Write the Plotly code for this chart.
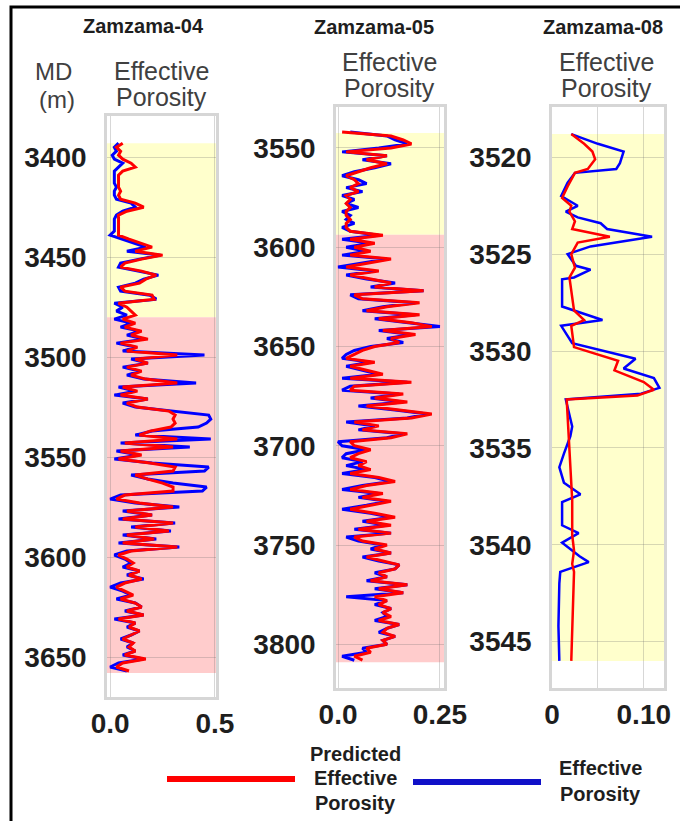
import numpy as np
import plotly.graph_objects as go

W, H = 680, 821
FONT = "Liberation Sans, Arial, sans-serif"
RED = "#ff0000"
BLUE = "#0000ff"

# ---------------- Zamzama-04 (samples every 2 m) ----------------
z04_start, z04_step = 3393, 2
z04_phie = [0.04, 0.02, 0.03, 0.01, 0.02, 0.06, 0.04, 0.02, 0.02, 0.02, 0.02, 0.03, 0.02, 0.02, 0.03,
            0.10, 0.12, 0.06, 0.03, 0.02, 0.02, 0.02, 0.02, 0.00, 0.06, 0.12, 0.17, 0.08, 0.24, 0.14,
            0.05, 0.04, 0.14, 0.23, 0.16, 0.12, 0.04, 0.05, 0.19, 0.22, 0.02, 0.06, 0.03, 0.08, 0.02,
            0.10, 0.05, 0.14, 0.08, 0.16, 0.03, 0.12, 0.06, 0.45, 0.10, 0.18, 0.06, 0.14, 0.08, 0.16,
            0.41, 0.04, 0.12, 0.02, 0.18, 0.06, 0.12, 0.30, 0.47, 0.48, 0.46, 0.42, 0.20, 0.12, 0.48,
            0.05, 0.38, 0.03, 0.14, 0.02, 0.20, 0.47, 0.45, 0.10, 0.18, 0.30, 0.46, 0.44, 0.05, 0.00,
            0.12, 0.33, 0.06, 0.20, 0.04, 0.31, 0.10, 0.29, 0.06, 0.22, 0.04, 0.33, 0.08, 0.02, 0.07,
            0.10, 0.06, 0.14, 0.08, 0.16, 0.05, 0.00, 0.06, 0.10, 0.03, 0.12, 0.15, 0.07, 0.16, 0.02,
            0.12, 0.08, 0.14, 0.10, 0.05, 0.11, 0.08, 0.12, 0.06, 0.16, 0.04, 0.00, 0.08]
z04_pred = [0.06, 0.03, 0.05, 0.04, 0.06, 0.10, 0.12, 0.06, 0.04, 0.04, 0.04, 0.04, 0.05, 0.04, 0.05,
            0.12, 0.16, 0.08, 0.04, 0.04, 0.04, 0.04, 0.04, 0.04, 0.09, 0.15, 0.20, 0.12, 0.25, 0.15,
            0.07, 0.05, 0.15, 0.22, 0.17, 0.14, 0.05, 0.07, 0.20, 0.21, 0.04, 0.08, 0.10, 0.12, 0.06,
            0.12, 0.07, 0.15, 0.10, 0.18, 0.05, 0.13, 0.08, 0.32, 0.12, 0.18, 0.08, 0.15, 0.10, 0.17,
            0.32, 0.06, 0.13, 0.05, 0.18, 0.08, 0.13, 0.28, 0.31, 0.30, 0.31, 0.29, 0.19, 0.14, 0.32,
            0.07, 0.30, 0.05, 0.15, 0.04, 0.19, 0.31, 0.30, 0.12, 0.18, 0.25, 0.30, 0.30, 0.07, 0.03,
            0.14, 0.30, 0.08, 0.20, 0.06, 0.30, 0.12, 0.28, 0.08, 0.21, 0.06, 0.32, 0.10, 0.04, 0.08,
            0.11, 0.08, 0.14, 0.09, 0.15, 0.07, 0.03, 0.07, 0.11, 0.05, 0.12, 0.15, 0.08, 0.16, 0.04,
            0.12, 0.09, 0.14, 0.10, 0.06, 0.11, 0.09, 0.12, 0.07, 0.17, 0.06, 0.03, 0.09]
z04_zone_top = [3393, 3480]
z04_zone_base = [3480, 3658]
z04_zone_color = ["#ffffcc", "#ffcccc"]

# ---------------- Zamzama-05 (samples every 2 m) ----------------
z05_start, z05_step = 3542, 2
z05_phie = [0.03, 0.12, 0.14, 0.17, 0.10, 0.01, 0.12, 0.06, 0.13, 0.09, 0.04, 0.01, 0.05, 0.07, 0.02,
            0.06, 0.01, 0.04, 0.02, 0.05, 0.01, 0.03, 0.02, 0.04, 0.01, 0.03, 0.10, 0.01, 0.08, 0.02,
            0.07, 0.01, 0.12, 0.06, 0.00, 0.09, 0.02, 0.07, 0.14, 0.08, 0.21, 0.03, 0.05, 0.19, 0.11,
            0.06, 0.19, 0.09, 0.17, 0.25, 0.10, 0.18, 0.12, 0.16, 0.08, 0.04, 0.02, 0.01, 0.08, 0.02,
            0.06, 0.10, 0.01, 0.17, 0.03, 0.01, 0.15, 0.08, 0.16, 0.05, 0.14, 0.22, 0.17, 0.02, 0.09,
            0.05, 0.16, 0.12, 0.00, 0.01, 0.07, 0.02, 0.01, 0.06, 0.02, 0.07, 0.01, 0.09, 0.13, 0.06,
            0.01, 0.10, 0.05, 0.12, 0.07, 0.01, 0.08, 0.13, 0.06, 0.12, 0.04, 0.13, 0.02, 0.05, 0.11,
            0.08, 0.13, 0.06, 0.10, 0.15, 0.14, 0.09, 0.12, 0.07, 0.17, 0.09, 0.16, 0.02, 0.12, 0.09,
            0.13, 0.11, 0.12, 0.09, 0.15, 0.12, 0.10, 0.14, 0.11, 0.12, 0.06, 0.07, 0.01, 0.04]
z05_pred = [0.01, 0.13, 0.16, 0.18, 0.13, 0.02, 0.12, 0.07, 0.12, 0.08, 0.05, 0.02, 0.04, 0.05, 0.03,
            0.05, 0.02, 0.03, 0.02, 0.03, 0.02, 0.02, 0.03, 0.02, 0.02, 0.03, 0.11, 0.03, 0.09, 0.04,
            0.08, 0.03, 0.13, 0.07, 0.02, 0.10, 0.03, 0.08, 0.13, 0.09, 0.21, 0.04, 0.06, 0.20, 0.12,
            0.07, 0.20, 0.10, 0.18, 0.23, 0.11, 0.19, 0.13, 0.15, 0.09, 0.06, 0.04, 0.02, 0.09, 0.03,
            0.07, 0.11, 0.03, 0.18, 0.04, 0.03, 0.16, 0.09, 0.17, 0.07, 0.15, 0.23, 0.18, 0.04, 0.10,
            0.06, 0.17, 0.13, 0.03, 0.04, 0.08, 0.05, 0.03, 0.07, 0.05, 0.08, 0.03, 0.10, 0.14, 0.07,
            0.03, 0.11, 0.06, 0.13, 0.08, 0.03, 0.09, 0.14, 0.07, 0.13, 0.05, 0.13, 0.04, 0.06, 0.12,
            0.09, 0.13, 0.07, 0.11, 0.15, 0.14, 0.10, 0.12, 0.08, 0.17, 0.10, 0.16, 0.09, 0.12, 0.10,
            0.13, 0.11, 0.13, 0.10, 0.15, 0.12, 0.11, 0.14, 0.11, 0.12, 0.07, 0.08, 0.04, 0.06]
z05_zone_top = [3542.5, 3593.7]
z05_zone_base = [3593.7, 3809]
z05_zone_color = ["#ffffcc", "#ffcccc"]

# ---------------- Zamzama-08 (irregular samples) ----------------
z08_phie_md = [3518.8, 3519.3, 3519.7, 3520.3, 3520.6, 3520.8, 3521.3, 3522.0, 3522.5, 3522.8,
               3523.1, 3523.4, 3523.7, 3524.1, 3524.6, 3525.0, 3525.6, 3525.8, 3526.2, 3526.3,
               3527.7, 3528.0, 3528.4, 3528.7, 3529.6, 3530.4, 3530.9, 3531.4, 3531.9, 3532.2,
               3532.5, 3533.9, 3534.4, 3535.3, 3536.0, 3536.8, 3537.4, 3537.8, 3539.0, 3539.4,
               3539.9, 3540.3, 3540.6, 3540.9, 3541.2, 3541.4, 3542.0, 3544.2, 3546.0]
z08_phie = [0.021, 0.050, 0.078, 0.074, 0.070, 0.025, 0.017, 0.010, 0.028, 0.015,
            0.028, 0.053, 0.060, 0.109, 0.042, 0.017, 0.026, 0.042, 0.024, 0.011,
            0.011, 0.031, 0.055, 0.010, 0.022, 0.091, 0.078, 0.111, 0.117, 0.097,
            0.015, 0.022, 0.020, 0.013, 0.008, 0.013, 0.031, 0.011, 0.011, 0.029,
            0.011, 0.022, 0.030, 0.040, 0.020, 0.009, 0.008, 0.007, 0.008]
z08_pred_md = [3518.8, 3519.3, 3519.7, 3520.1, 3520.6, 3520.8, 3521.5, 3522.1, 3522.5, 3522.8,
               3523.3, 3523.7, 3524.1, 3524.4, 3525.0, 3525.7, 3526.2, 3527.9, 3528.4, 3528.7,
               3529.8, 3530.5, 3531.0, 3531.6, 3532.0, 3532.3, 3532.5, 3534.3, 3537.7, 3539.5,
               3540.3, 3541.0, 3541.4, 3546.0]
z08_pred = [0.021, 0.035, 0.044, 0.047, 0.039, 0.025, 0.017, 0.011, 0.021, 0.019,
            0.025, 0.022, 0.063, 0.028, 0.021, 0.025, 0.019, 0.024, 0.035, 0.021,
            0.024, 0.072, 0.068, 0.100, 0.111, 0.093, 0.016, 0.018, 0.022, 0.022,
            0.024, 0.022, 0.024, 0.021]
z08_zone_top = [3518.8]
z08_zone_base = [3546.0]
z08_zone_color = ["#ffffcc"]

wells = ["Zamzama-04", "Zamzama-05", "Zamzama-08"]


def px(x):
    return x / W


def py(y):
    return 1 - y / H


z04_md = z04_start + z04_step * np.arange(len(z04_phie))
z05_md = z05_start + z05_step * np.arange(len(z05_phie))

panels = [
    dict(md_b=z04_md, b=z04_phie, md_r=z04_md, r=z04_pred, lw=3,
         zt=z04_zone_top, zb=z04_zone_base, zc=z04_zone_color,
         xdom=[px(107), px(216)], ydom=[py(697), py(116)],
         xr=[-0.015, 0.505], yr=[3670, 3379.4],
         xt=[0, 0.5], xtt=["0.0", "0.5"], yt=[3400, 3450, 3500, 3550, 3600, 3650]),
    dict(md_b=z05_md, b=z05_phie, md_r=z05_md, r=z05_pred, lw=3,
         zt=z05_zone_top, zb=z05_zone_base, zc=z05_zone_color,
         xdom=[px(336), px(444)], ydom=[py(688), py(107)],
         xr=[-0.005, 0.26], yr=[3822, 3529.4],
         xt=[0, 0.25], xtt=["0.0", "0.25"], yt=[3550, 3600, 3650, 3700, 3750, 3800]),
    dict(md_b=z08_phie_md, b=z08_phie, md_r=z08_pred_md, r=z08_pred, lw=2.5,
         zt=z08_zone_top, zb=z08_zone_base, zc=z08_zone_color,
         xdom=[px(552), px(664)], ydom=[py(688), py(107)],
         xr=[0.0, 0.122], yr=[3547.4, 3517.4],
         xt=[0, 0.05, 0.10], xtt=["0", "", "0.10"], yt=[3520, 3525, 3530, 3535, 3540, 3545]),
]

fig = go.Figure()
shapes = []
layout = {}
tickfont = dict(family=FONT, size=28, color="#1e1e1e", weight="bold")

for i, p in enumerate(panels):
    n = "" if i == 0 else str(i + 1)
    xa, ya = "x" + n, "y" + n
    fig.add_trace(go.Scatter(x=p["b"], y=p["md_b"], mode="lines", xaxis=xa, yaxis=ya,
                             line=dict(color=BLUE, width=p["lw"]), showlegend=False,
                             name="Effective Porosity"))
    fig.add_trace(go.Scatter(x=p["r"], y=p["md_r"], mode="lines", xaxis=xa, yaxis=ya,
                             line=dict(color=RED, width=p["lw"]), showlegend=False,
                             name="Predicted Effective Porosity"))
    for t, b, c in zip(p["zt"], p["zb"], p["zc"]):
        shapes.append(dict(type="rect", xref=xa + " domain", yref=ya, x0=0, x1=1, y0=t, y1=b,
                           fillcolor=c, line=dict(width=0), layer="below"))
    layout["xaxis" + n] = dict(domain=p["xdom"], range=p["xr"], anchor=ya, side="bottom",
                               tickvals=p["xt"], ticktext=p["xtt"], tickfont=tickfont,
                               showgrid=True, gridcolor="rgba(110,110,110,0.28)", gridwidth=1.2,
                               showline=True, mirror=True, linecolor="#d6d6d6", linewidth=2.5,
                               zeroline=False, ticks="", ticklen=0, ticklabelstandoff=0,
                               automargin=False, fixedrange=True)
    layout["yaxis" + n] = dict(domain=p["ydom"], range=p["yr"], anchor=xa,
                               tickvals=p["yt"], tickfont=tickfont,
                               showgrid=True, gridcolor="rgba(110,110,110,0.28)", gridwidth=1.2,
                               showline=True, mirror=True, linecolor="#d6d6d6", linewidth=2.5,
                               zeroline=False, ticks="", ticklen=0, ticklabelstandoff=12,
                               automargin=False, fixedrange=True)

annotations = []


def text(s, x, y, size, bold=False, color="#1e1e1e"):
    annotations.append(dict(text=s, x=px(x), y=py(y), xref="paper", yref="paper",
                            xanchor="center", yanchor="middle", showarrow=False,
                            font=dict(family=FONT, size=size, color=color,
                                      weight="bold" if bold else "normal")))


# well names and track headers
text(wells[0], 143, 26, 20, bold=True)
text(wells[1], 374, 27, 20, bold=True)
text(wells[2], 603, 27, 20, bold=True)
grey = "#404040"
text("MD", 53, 72, 24, color=grey)
text("(m)", 57, 99, 24, color=grey)
for cx, cy in [(161, 71), (389, 62), (606, 62)]:
    text("Effective", cx, cy, 25, color=grey)
    text("Porosity", cx, cy + 26, 25, color=grey)

# legend
shapes.append(dict(type="line", xref="paper", yref="paper", x0=px(167), x1=px(295),
                   y0=py(779), y1=py(779), line=dict(color=RED, width=6)))
shapes.append(dict(type="line", xref="paper", yref="paper", x0=px(413), x1=px(541),
                   y0=py(782), y1=py(782), line=dict(color="#1010c8", width=6)))
text("Predicted", 355, 754, 20, bold=True)
text("Effective", 355, 778, 20, bold=True)
text("Porosity", 355, 803, 20, bold=True)
text("Effective", 600, 768, 20, bold=True)
text("Porosity", 600, 794, 20, bold=True)

# outer frame
shapes.append(dict(type="rect", xref="paper", yref="paper", x0=px(11), x1=1.05,
                   y0=-0.05, y1=py(7), line=dict(color="black", width=3),
                   fillcolor="rgba(0,0,0,0)"))

fig.update_layout(width=W, height=H, margin=dict(l=0, r=0, t=0, b=0, autoexpand=False),
                  paper_bgcolor="white", plot_bgcolor="white",
                  shapes=shapes, annotations=annotations, **layout)

fig.write_html("out.html")
